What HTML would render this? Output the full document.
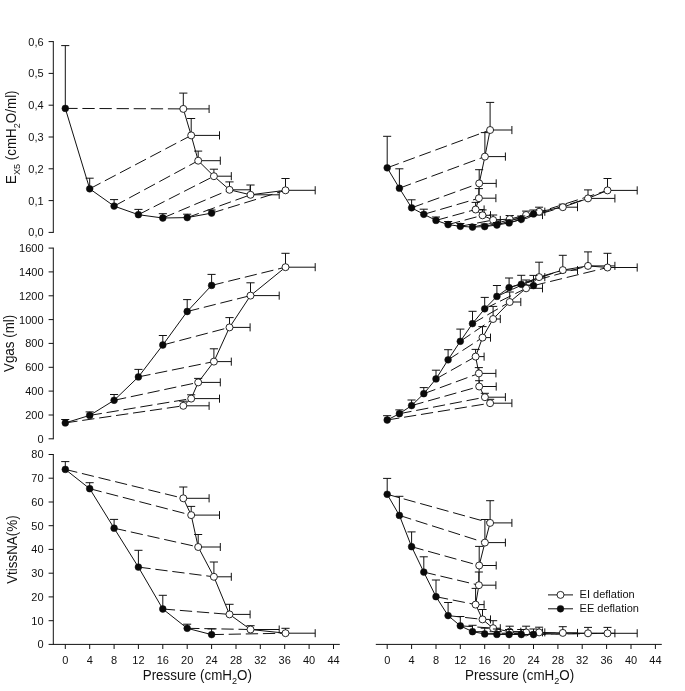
<!DOCTYPE html>
<html lang="en"><head><meta charset="utf-8"><title>Figure</title>
<style>html,body{margin:0;padding:0;background:#fff}svg{display:block}text{font-family:"Liberation Sans", Arial, sans-serif;fill:#111}.t{font-size:11px}.a{font-size:13.4px}.s{font-size:9.1px}.ln{stroke:#111;stroke-width:1;fill:none}.ax{stroke:#111;stroke-width:1;fill:none}.d{stroke:#111;stroke-width:1;fill:none;stroke-dasharray:12.3 4.8}.o{fill:#fff;stroke:#111;stroke-width:0.9}.f{fill:#0a0a0a;stroke:#111;stroke-width:0.5}</style></head><body>
<svg width="685" height="691" viewBox="0 0 685 691">
<rect width="685" height="691" fill="#fff"/>
<path class="d" d="M65.3 108.4L183.3 108.9M89.7 188.8L191.2 135.4M114.1 206.1L198.2 160.7M138.4 214.7L213.9 176.2M162.8 218.0L229.5 189.8M187.2 217.6L250.5 194.8M211.6 213.1L285.5 190.3"/>
<polyline class="ln" points="183.3,108.9 191.2,135.4 198.2,160.7 213.9,176.2 229.5,189.8 250.5,194.8 285.5,190.3"/>
<path class="ln" d="M183.3 108.9V93.1M179.2 93.1H187.4M183.3 108.9H209.1M209.1 104.9V113.0M191.2 135.4V118.5M187.1 118.5H195.2M191.2 135.4H219.5M219.5 131.3V139.5M198.2 160.7V151.1M194.1 151.1H202.2M198.2 160.7H220.3M220.3 156.6V164.8M213.9 176.2V169.2M209.8 169.2H218.0M213.9 176.2H231.3M231.3 172.1V180.2M229.5 189.8V181.9M225.4 181.9H233.6M229.5 189.8H250.1M250.1 185.8V193.9M250.5 194.8V185.0M246.4 185.0H254.6M250.5 194.8H279.2M279.2 190.8V198.9M285.5 190.3V178.5M281.4 178.5H289.6M285.5 190.3H315.2M315.2 186.2V194.4"/>
<circle class="o" cx="183.3" cy="108.9" r="3.5"/>
<circle class="o" cx="191.2" cy="135.4" r="3.5"/>
<circle class="o" cx="198.2" cy="160.7" r="3.5"/>
<circle class="o" cx="213.9" cy="176.2" r="3.5"/>
<circle class="o" cx="229.5" cy="189.8" r="3.5"/>
<circle class="o" cx="250.5" cy="194.8" r="3.5"/>
<circle class="o" cx="285.5" cy="190.3" r="3.5"/>
<polyline class="ln" points="65.3,108.4 89.7,188.8 114.1,206.1 138.4,214.7 162.8,218.0 187.2,217.6 211.6,213.1"/>
<path class="ln" d="M65.3 108.4V45.6M61.2 45.6H69.3M89.7 188.8V178.2M85.6 178.2H93.7M114.1 206.1V199.6M110.0 199.6H118.1M138.4 214.7V209.4M134.4 209.4H142.5M162.8 218.0V213.7M158.8 213.7H166.9M187.2 217.6V214.2M183.1 214.2H191.2M211.6 213.1V210.0M207.5 210.0H215.6"/>
<circle class="f" cx="65.3" cy="108.4" r="3.4"/>
<circle class="f" cx="89.7" cy="188.8" r="3.4"/>
<circle class="f" cx="114.1" cy="206.1" r="3.4"/>
<circle class="f" cx="138.4" cy="214.7" r="3.4"/>
<circle class="f" cx="162.8" cy="218.0" r="3.4"/>
<circle class="f" cx="187.2" cy="217.6" r="3.4"/>
<circle class="f" cx="211.6" cy="213.1" r="3.4"/>
<path class="d" d="M65.3 422.9L183.3 405.8M89.7 415.4L191.2 398.6M114.1 400.3L198.2 382.4M138.4 376.9L213.9 361.6M162.8 345.0L229.5 327.4M187.2 311.5L250.5 295.6M211.6 285.4L285.5 267.2"/>
<polyline class="ln" points="183.3,405.8 191.2,398.6 198.2,382.4 213.9,361.6 229.5,327.4 250.5,295.6 285.5,267.2"/>
<path class="ln" d="M183.3 405.8V401.2M179.2 401.2H187.4M183.3 405.8H209.1M209.1 401.8V409.9M191.2 398.6V394.8M187.1 394.8H195.2M191.2 398.6H219.5M219.5 394.6V402.7M198.2 382.4V378.4M194.1 378.4H202.2M198.2 382.4H220.3M220.3 378.3V386.4M213.9 361.6V348.8M209.8 348.8H218.0M213.9 361.6H231.3M231.3 357.6V365.7M229.5 327.4V317.6M225.4 317.6H233.6M229.5 327.4H250.1M250.1 323.3V331.4M250.5 295.6V282.8M246.4 282.8H254.6M250.5 295.6H279.2M279.2 291.6V299.7M285.5 267.2V253.3M281.4 253.3H289.6M285.5 267.2H315.2M315.2 263.1V271.2"/>
<circle class="o" cx="183.3" cy="405.8" r="3.5"/>
<circle class="o" cx="191.2" cy="398.6" r="3.5"/>
<circle class="o" cx="198.2" cy="382.4" r="3.5"/>
<circle class="o" cx="213.9" cy="361.6" r="3.5"/>
<circle class="o" cx="229.5" cy="327.4" r="3.5"/>
<circle class="o" cx="250.5" cy="295.6" r="3.5"/>
<circle class="o" cx="285.5" cy="267.2" r="3.5"/>
<polyline class="ln" points="65.3,422.9 89.7,415.4 114.1,400.3 138.4,376.9 162.8,345.0 187.2,311.5 211.6,285.4"/>
<path class="ln" d="M65.3 422.9V419.5M61.2 419.5H69.3M89.7 415.4V411.9M85.6 411.9H93.7M114.1 400.3V394.5M110.0 394.5H118.1M138.4 376.9V369.4M134.4 369.4H142.5M162.8 345.0V335.5M158.8 335.5H166.9M187.2 311.5V299.6M183.1 299.6H191.2M211.6 285.4V274.4M207.5 274.4H215.6"/>
<circle class="f" cx="65.3" cy="422.9" r="3.4"/>
<circle class="f" cx="89.7" cy="415.4" r="3.4"/>
<circle class="f" cx="114.1" cy="400.3" r="3.4"/>
<circle class="f" cx="138.4" cy="376.9" r="3.4"/>
<circle class="f" cx="162.8" cy="345.0" r="3.4"/>
<circle class="f" cx="187.2" cy="311.5" r="3.4"/>
<circle class="f" cx="211.6" cy="285.4" r="3.4"/>
<path class="d" d="M65.3 469.4L183.3 498.3M89.7 488.7L191.2 515.1M114.1 528.2L198.2 547.0M138.4 567.1L213.9 576.8M162.8 609.0L229.5 614.4M187.2 628.3L250.5 629.5M211.6 634.6L285.5 633.2"/>
<polyline class="ln" points="183.3,498.3 191.2,515.1 198.2,547.0 213.9,576.8 229.5,614.4 250.5,629.5 285.5,633.2"/>
<path class="ln" d="M183.3 498.3V487.0M179.2 487.0H187.4M183.3 498.3H209.1M209.1 494.2V502.4M191.2 515.1V506.4M187.1 506.4H195.2M191.2 515.1H219.5M219.5 511.1V519.1M198.2 547.0V534.5M194.1 534.5H202.2M198.2 547.0H220.3M220.3 543.0V551.0M213.9 576.8V562.0M209.8 562.0H218.0M213.9 576.8H231.3M231.3 572.8V580.8M229.5 614.4V604.3M225.4 604.3H233.6M229.5 614.4H250.1M250.1 610.4V618.4M250.5 629.5V625.7M246.4 625.7H254.6M250.5 629.5H279.2M279.2 625.5V633.5M285.5 633.2V628.3M281.4 628.3H289.6M285.5 633.2H315.2M315.2 629.2V637.2"/>
<circle class="o" cx="183.3" cy="498.3" r="3.5"/>
<circle class="o" cx="191.2" cy="515.1" r="3.5"/>
<circle class="o" cx="198.2" cy="547.0" r="3.5"/>
<circle class="o" cx="213.9" cy="576.8" r="3.5"/>
<circle class="o" cx="229.5" cy="614.4" r="3.5"/>
<circle class="o" cx="250.5" cy="629.5" r="3.5"/>
<circle class="o" cx="285.5" cy="633.2" r="3.5"/>
<polyline class="ln" points="65.3,469.4 89.7,488.7 114.1,528.2 138.4,567.1 162.8,609.0 187.2,628.3 211.6,634.6"/>
<path class="ln" d="M65.3 469.4V461.6M61.2 461.6H69.3M89.7 488.7V482.7M85.6 482.7H93.7M114.1 528.2V519.4M110.0 519.4H118.1M138.4 567.1V550.3M134.4 550.3H142.5M162.8 609.0V595.3M158.8 595.3H166.9M187.2 628.3V624.2M183.1 624.2H191.2M211.6 634.6V628.9M207.5 628.9H215.6"/>
<circle class="f" cx="65.3" cy="469.4" r="3.4"/>
<circle class="f" cx="89.7" cy="488.7" r="3.4"/>
<circle class="f" cx="114.1" cy="528.2" r="3.4"/>
<circle class="f" cx="138.4" cy="567.1" r="3.4"/>
<circle class="f" cx="162.8" cy="609.0" r="3.4"/>
<circle class="f" cx="187.2" cy="628.3" r="3.4"/>
<circle class="f" cx="211.6" cy="634.6" r="3.4"/>
<path class="d" d="M387.2 167.8L490.1 130.0M399.4 188.2L484.9 156.6M411.6 207.8L479.2 183.4M423.8 214.3L478.9 198.2M436.0 220.4L475.6 209.5M448.1 224.6L482.5 215.3M460.3 226.3L493.1 220.0M472.5 227.1L509.7 219.1M484.7 226.6L526.1 215.0M496.9 225.0L539.1 211.7M509.1 222.9L562.8 207.2M521.3 219.3L588.0 198.4M533.5 213.9L607.5 190.4"/>
<polyline class="ln" points="490.1,130.0 484.9,156.6 479.2,183.4 478.9,198.2 475.6,209.5 482.5,215.3 493.1,220.0 509.7,219.1 526.1,215.0 539.1,211.7 562.8,207.2 588.0,198.4 607.5,190.4"/>
<path class="ln" d="M490.1 130.0V102.4M486.1 102.4H494.2M490.1 130.0H511.9M511.9 126.0V134.1M484.9 156.6V132.6M480.8 132.6H488.9M484.9 156.6H505.4M505.4 152.5V160.7M479.2 183.4V169.7M475.1 169.7H483.2M479.2 183.4H496.2M496.2 179.3V187.5M478.9 198.2V188.6M474.8 188.6H482.9M478.9 198.2H495.9M495.9 194.1V202.2M475.6 209.5V202.4M471.6 202.4H479.7M475.6 209.5H484.1M484.1 205.4V213.6M482.5 215.3V209.9M478.4 209.9H486.6M482.5 215.3H490.5M490.5 211.2V219.4M493.1 220.0V215.0M489.1 215.0H497.2M493.1 220.0H500.3M500.3 215.9V224.1M509.7 219.1V215.5M505.6 215.5H513.8M509.7 219.1H520.8M520.8 215.0V223.2M526.1 215.0V211.1M522.1 211.1H530.1M526.1 215.0H542.5M542.5 210.9V219.1M539.1 211.7V207.2M535.1 207.2H543.1M539.1 211.7H544.8M544.8 207.6V215.8M562.8 207.2V204.2M558.8 204.2H566.8M562.8 207.2H577.5M577.5 203.1V211.2M588.0 198.4V189.9M584.0 189.9H592.0M588.0 198.4H614.9M614.9 194.3V202.5M607.5 190.4V178.5M603.5 178.5H611.5M607.5 190.4H637.2M637.2 186.3V194.5"/>
<circle class="o" cx="490.1" cy="130.0" r="3.5"/>
<circle class="o" cx="484.9" cy="156.6" r="3.5"/>
<circle class="o" cx="479.2" cy="183.4" r="3.5"/>
<circle class="o" cx="478.9" cy="198.2" r="3.5"/>
<circle class="o" cx="475.6" cy="209.5" r="3.5"/>
<circle class="o" cx="482.5" cy="215.3" r="3.5"/>
<circle class="o" cx="493.1" cy="220.0" r="3.5"/>
<circle class="o" cx="509.7" cy="219.1" r="3.5"/>
<circle class="o" cx="526.1" cy="215.0" r="3.5"/>
<circle class="o" cx="539.1" cy="211.7" r="3.5"/>
<circle class="o" cx="562.8" cy="207.2" r="3.5"/>
<circle class="o" cx="588.0" cy="198.4" r="3.5"/>
<circle class="o" cx="607.5" cy="190.4" r="3.5"/>
<polyline class="ln" points="387.2,167.8 399.4,188.2 411.6,207.8 423.8,214.3 436.0,220.4 448.1,224.6 460.3,226.3 472.5,227.1 484.7,226.6 496.9,225.0 509.1,222.9 521.3,219.3 533.5,213.9"/>
<path class="ln" d="M387.2 167.8V136.3M383.1 136.3H391.2M399.4 188.2V168.8M395.3 168.8H403.4M411.6 207.8V199.8M407.5 199.8H415.6M423.8 214.3V209.2M419.7 209.2H427.8M436.0 220.4V217.0M431.9 217.0H440.0M448.1 224.6V221.5M444.1 221.5H452.2M460.3 226.3V223.5M456.3 223.5H464.4M472.5 227.1V224.5M468.5 224.5H476.6M484.7 226.6V224.0M480.7 224.0H488.8M496.9 225.0V222.5M492.9 222.5H501.0M509.1 222.9V220.0M505.0 220.0H513.1M521.3 219.3V216.0M517.2 216.0H525.3M533.5 213.9V210.0M529.4 210.0H537.5"/>
<circle class="f" cx="387.2" cy="167.8" r="3.4"/>
<circle class="f" cx="399.4" cy="188.2" r="3.4"/>
<circle class="f" cx="411.6" cy="207.8" r="3.4"/>
<circle class="f" cx="423.8" cy="214.3" r="3.4"/>
<circle class="f" cx="436.0" cy="220.4" r="3.4"/>
<circle class="f" cx="448.1" cy="224.6" r="3.4"/>
<circle class="f" cx="460.3" cy="226.3" r="3.4"/>
<circle class="f" cx="472.5" cy="227.1" r="3.4"/>
<circle class="f" cx="484.7" cy="226.6" r="3.4"/>
<circle class="f" cx="496.9" cy="225.0" r="3.4"/>
<circle class="f" cx="509.1" cy="222.9" r="3.4"/>
<circle class="f" cx="521.3" cy="219.3" r="3.4"/>
<circle class="f" cx="533.5" cy="213.9" r="3.4"/>
<path class="d" d="M387.2 420.0L490.1 403.2M399.4 413.7L484.9 397.2M411.6 405.6L479.2 386.5M423.8 393.7L478.9 373.4M436.0 378.9L475.6 356.6M448.1 359.8L482.5 337.6M460.3 341.3L493.1 319.0M472.5 323.6L509.7 302.0M484.7 308.8L526.1 288.3M496.9 296.4L539.1 277.1M509.1 287.6L562.8 270.1M521.3 284.3L588.0 265.9M533.5 285.6L607.5 267.5"/>
<polyline class="ln" points="490.1,403.2 484.9,397.2 479.2,386.5 478.9,373.4 475.6,356.6 482.5,337.6 493.1,319.0 509.7,302.0 526.1,288.3 539.1,277.1 562.8,270.1 588.0,265.9 607.5,267.5"/>
<path class="ln" d="M490.1 403.2V399.3M486.1 399.3H494.2M490.1 403.2H511.9M511.9 399.1V407.2M484.9 397.2V393.3M480.8 393.3H488.9M484.9 397.2H505.4M505.4 393.1V401.2M479.2 386.5V380.7M475.1 380.7H483.2M479.2 386.5H496.2M496.2 382.4V390.6M478.9 373.4V367.6M474.8 367.6H482.9M478.9 373.4H495.9M495.9 369.3V377.4M475.6 356.6V349.4M471.6 349.4H479.7M475.6 356.6H484.1M484.1 352.6V360.7M482.5 337.6V326.6M478.4 326.6H486.6M482.5 337.6H490.5M490.5 333.6V341.7M493.1 319.0V306.4M489.1 306.4H497.2M493.1 319.0H500.3M500.3 314.9V323.1M509.7 302.0V292.0M505.6 292.0H513.8M509.7 302.0H520.8M520.8 297.9V306.1M526.1 288.3V280.0M522.1 280.0H530.1M526.1 288.3H542.5M542.5 284.2V292.4M539.1 277.1V262.2M535.1 262.2H543.1M539.1 277.1H544.8M544.8 273.1V281.2M562.8 270.1V255.3M558.8 255.3H566.8M562.8 270.1H577.5M577.5 266.1V274.2M588.0 265.9V251.9M584.0 251.9H592.0M588.0 265.9H614.9M614.9 261.8V269.9M607.5 267.5V253.3M603.5 253.3H611.5M607.5 267.5H637.2M637.2 263.4V271.6"/>
<circle class="o" cx="490.1" cy="403.2" r="3.5"/>
<circle class="o" cx="484.9" cy="397.2" r="3.5"/>
<circle class="o" cx="479.2" cy="386.5" r="3.5"/>
<circle class="o" cx="478.9" cy="373.4" r="3.5"/>
<circle class="o" cx="475.6" cy="356.6" r="3.5"/>
<circle class="o" cx="482.5" cy="337.6" r="3.5"/>
<circle class="o" cx="493.1" cy="319.0" r="3.5"/>
<circle class="o" cx="509.7" cy="302.0" r="3.5"/>
<circle class="o" cx="526.1" cy="288.3" r="3.5"/>
<circle class="o" cx="539.1" cy="277.1" r="3.5"/>
<circle class="o" cx="562.8" cy="270.1" r="3.5"/>
<circle class="o" cx="588.0" cy="265.9" r="3.5"/>
<circle class="o" cx="607.5" cy="267.5" r="3.5"/>
<polyline class="ln" points="387.2,420.0 399.4,413.7 411.6,405.6 423.8,393.7 436.0,378.9 448.1,359.8 460.3,341.3 472.5,323.6 484.7,308.8 496.9,296.4 509.1,287.6 521.3,284.3 533.5,285.6"/>
<path class="ln" d="M387.2 420.0V415.7M383.1 415.7H391.2M399.4 413.7V409.9M395.3 409.9H403.4M411.6 405.6V400.0M407.5 400.0H415.6M423.8 393.7V387.6M419.7 387.6H427.8M436.0 378.9V370.2M431.9 370.2H440.0M448.1 359.8V349.7M444.1 349.7H452.2M460.3 341.3V329.1M456.3 329.1H464.4M472.5 323.6V311.3M468.5 311.3H476.6M484.7 308.8V297.4M480.7 297.4H488.8M496.9 296.4V285.5M492.9 285.5H501.0M509.1 287.6V278.0M505.0 278.0H513.1M521.3 284.3V275.3M517.2 275.3H525.3M533.5 285.6V275.4M529.4 275.4H537.5"/>
<circle class="f" cx="387.2" cy="420.0" r="3.4"/>
<circle class="f" cx="399.4" cy="413.7" r="3.4"/>
<circle class="f" cx="411.6" cy="405.6" r="3.4"/>
<circle class="f" cx="423.8" cy="393.7" r="3.4"/>
<circle class="f" cx="436.0" cy="378.9" r="3.4"/>
<circle class="f" cx="448.1" cy="359.8" r="3.4"/>
<circle class="f" cx="460.3" cy="341.3" r="3.4"/>
<circle class="f" cx="472.5" cy="323.6" r="3.4"/>
<circle class="f" cx="484.7" cy="308.8" r="3.4"/>
<circle class="f" cx="496.9" cy="296.4" r="3.4"/>
<circle class="f" cx="509.1" cy="287.6" r="3.4"/>
<circle class="f" cx="521.3" cy="284.3" r="3.4"/>
<circle class="f" cx="533.5" cy="285.6" r="3.4"/>
<path class="d" d="M387.2 494.3L490.1 522.9M399.4 515.4L484.9 542.6M411.6 546.7L479.2 565.5M423.8 572.1L478.9 585.2M436.0 596.7L475.6 604.6M448.1 615.6L482.5 619.4M460.3 625.8L493.1 628.2M472.5 631.7L509.7 631.7M484.7 633.9L526.1 632.4M496.9 634.4L539.1 632.4M509.1 634.5L562.8 632.9M521.3 634.5L588.0 633.3M533.5 634.5L607.5 633.3"/>
<polyline class="ln" points="490.1,522.9 484.9,542.6 479.2,565.5 478.9,585.2 475.6,604.6 482.5,619.4 493.1,628.2 509.7,631.7 526.1,632.4 539.1,632.4 562.8,632.9 588.0,633.3 607.5,633.3"/>
<path class="ln" d="M490.1 522.9V500.7M486.1 500.7H494.2M490.1 522.9H511.9M511.9 518.9V526.9M484.9 542.6V519.5M480.8 519.5H488.9M484.9 542.6H505.4M505.4 538.6V546.6M479.2 565.5V546.4M475.1 546.4H483.2M479.2 565.5H496.2M496.2 561.5V569.5M478.9 585.2V572.0M474.8 572.0H482.9M478.9 585.2H495.9M495.9 581.2V589.2M475.6 604.6V588.4M471.6 588.4H479.7M475.6 604.6H484.1M484.1 600.6V608.6M482.5 619.4V609.5M478.4 609.5H486.6M482.5 619.4H490.5M490.5 615.4V623.4M493.1 628.2V620.7M489.1 620.7H497.2M493.1 628.2H500.3M500.3 624.2V632.2M509.7 631.7V626.2M505.6 626.2H513.8M509.7 631.7H520.8M520.8 627.7V635.8M526.1 632.4V626.2M522.1 626.2H530.1M526.1 632.4H542.5M542.5 628.4V636.4M539.1 632.4V627.2M535.1 627.2H543.1M539.1 632.4H544.8M544.8 628.4V636.4M562.8 632.9V626.7M558.8 626.7H566.8M562.8 632.9H577.5M577.5 628.9V636.9M588.0 633.3V627.4M584.0 627.4H592.0M588.0 633.3H614.9M614.9 629.2V637.3M607.5 633.3V627.4M603.5 627.4H611.5M607.5 633.3H637.2M637.2 629.2V637.3"/>
<circle class="o" cx="490.1" cy="522.9" r="3.5"/>
<circle class="o" cx="484.9" cy="542.6" r="3.5"/>
<circle class="o" cx="479.2" cy="565.5" r="3.5"/>
<circle class="o" cx="478.9" cy="585.2" r="3.5"/>
<circle class="o" cx="475.6" cy="604.6" r="3.5"/>
<circle class="o" cx="482.5" cy="619.4" r="3.5"/>
<circle class="o" cx="493.1" cy="628.2" r="3.5"/>
<circle class="o" cx="509.7" cy="631.7" r="3.5"/>
<circle class="o" cx="526.1" cy="632.4" r="3.5"/>
<circle class="o" cx="539.1" cy="632.4" r="3.5"/>
<circle class="o" cx="562.8" cy="632.9" r="3.5"/>
<circle class="o" cx="588.0" cy="633.3" r="3.5"/>
<circle class="o" cx="607.5" cy="633.3" r="3.5"/>
<polyline class="ln" points="387.2,494.3 399.4,515.4 411.6,546.7 423.8,572.1 436.0,596.7 448.1,615.6 460.3,625.8 472.5,631.7 484.7,633.9 496.9,634.4 509.1,634.5 521.3,634.5 533.5,634.5"/>
<path class="ln" d="M387.2 494.3V478.4M383.1 478.4H391.2M399.4 515.4V496.3M395.3 496.3H403.4M411.6 546.7V531.9M407.5 531.9H415.6M423.8 572.1V556.8M419.7 556.8H427.8M436.0 596.7V580.0M431.9 580.0H440.0M448.1 615.6V602.5M444.1 602.5H452.2M460.3 625.8V616.5M456.3 616.5H464.4M472.5 631.7V625.3M468.5 625.3H476.6M484.7 633.9V628.2M480.7 628.2H488.8M496.9 634.4V629.0M492.9 629.0H501.0M509.1 634.5V629.5M505.0 629.5H513.1M521.3 634.5V629.5M517.2 629.5H525.3M533.5 634.5V629.0M529.4 629.0H537.5"/>
<circle class="f" cx="387.2" cy="494.3" r="3.4"/>
<circle class="f" cx="399.4" cy="515.4" r="3.4"/>
<circle class="f" cx="411.6" cy="546.7" r="3.4"/>
<circle class="f" cx="423.8" cy="572.1" r="3.4"/>
<circle class="f" cx="436.0" cy="596.7" r="3.4"/>
<circle class="f" cx="448.1" cy="615.6" r="3.4"/>
<circle class="f" cx="460.3" cy="625.8" r="3.4"/>
<circle class="f" cx="472.5" cy="631.7" r="3.4"/>
<circle class="f" cx="484.7" cy="633.9" r="3.4"/>
<circle class="f" cx="496.9" cy="634.4" r="3.4"/>
<circle class="f" cx="509.1" cy="634.5" r="3.4"/>
<circle class="f" cx="521.3" cy="634.5" r="3.4"/>
<circle class="f" cx="533.5" cy="634.5" r="3.4"/>
<path class="ax" d="M53.3 41.1V232.9M53.3 232.4h-4.7M53.3 200.6h-4.7M53.3 168.8h-4.7M53.3 137.0h-4.7M53.3 105.2h-4.7M53.3 73.4h-4.7M53.3 41.6h-4.7"/>
<text class="t" x="43.6" y="236.3" text-anchor="end">0,0</text>
<text class="t" x="43.6" y="204.5" text-anchor="end">0,1</text>
<text class="t" x="43.6" y="172.7" text-anchor="end">0,2</text>
<text class="t" x="43.6" y="140.9" text-anchor="end">0,3</text>
<text class="t" x="43.6" y="109.1" text-anchor="end">0,4</text>
<text class="t" x="43.6" y="77.3" text-anchor="end">0,5</text>
<text class="t" x="43.6" y="45.5" text-anchor="end">0,6</text>
<path class="ax" d="M53.3 247.6V439.3M53.3 438.8h-4.7M53.3 415.0h-4.7M53.3 391.1h-4.7M53.3 367.3h-4.7M53.3 343.4h-4.7M53.3 319.6h-4.7M53.3 295.8h-4.7M53.3 271.9h-4.7M53.3 248.1h-4.7"/>
<text class="t" x="43.6" y="442.7" text-anchor="end">0</text>
<text class="t" x="43.6" y="418.9" text-anchor="end">200</text>
<text class="t" x="43.6" y="395.0" text-anchor="end">400</text>
<text class="t" x="43.6" y="371.2" text-anchor="end">600</text>
<text class="t" x="43.6" y="347.3" text-anchor="end">800</text>
<text class="t" x="43.6" y="323.5" text-anchor="end">1000</text>
<text class="t" x="43.6" y="299.7" text-anchor="end">1200</text>
<text class="t" x="43.6" y="275.8" text-anchor="end">1400</text>
<text class="t" x="43.6" y="252.0" text-anchor="end">1600</text>
<path class="ax" d="M53.3 454.0V644.4M53.3 644.4h-4.7M53.3 620.7h-4.7M53.3 596.9h-4.7M53.3 573.2h-4.7M53.3 549.4h-4.7M53.3 525.7h-4.7M53.3 502.0h-4.7M53.3 478.2h-4.7M53.3 454.5h-4.7"/>
<text class="t" x="43.6" y="648.3" text-anchor="end">0</text>
<text class="t" x="43.6" y="624.6" text-anchor="end">10</text>
<text class="t" x="43.6" y="600.8" text-anchor="end">20</text>
<text class="t" x="43.6" y="577.1" text-anchor="end">30</text>
<text class="t" x="43.6" y="553.3" text-anchor="end">40</text>
<text class="t" x="43.6" y="529.6" text-anchor="end">50</text>
<text class="t" x="43.6" y="505.9" text-anchor="end">60</text>
<text class="t" x="43.6" y="482.1" text-anchor="end">70</text>
<text class="t" x="43.6" y="458.4" text-anchor="end">80</text>
<path class="ax" d="M53.0 644.4H339.8M65.3 644.4v4.6M89.7 644.4v4.6M114.1 644.4v4.6M138.4 644.4v4.6M162.8 644.4v4.6M187.2 644.4v4.6M211.6 644.4v4.6M236.0 644.4v4.6M260.3 644.4v4.6M284.7 644.4v4.6M309.1 644.4v4.6M333.5 644.4v4.6"/>
<text class="t" x="65.3" y="663.9" text-anchor="middle">0</text>
<text class="t" x="89.7" y="663.9" text-anchor="middle">4</text>
<text class="t" x="114.1" y="663.9" text-anchor="middle">8</text>
<text class="t" x="138.4" y="663.9" text-anchor="middle">12</text>
<text class="t" x="162.8" y="663.9" text-anchor="middle">16</text>
<text class="t" x="187.2" y="663.9" text-anchor="middle">20</text>
<text class="t" x="211.6" y="663.9" text-anchor="middle">24</text>
<text class="t" x="236.0" y="663.9" text-anchor="middle">28</text>
<text class="t" x="260.3" y="663.9" text-anchor="middle">32</text>
<text class="t" x="284.7" y="663.9" text-anchor="middle">36</text>
<text class="t" x="309.1" y="663.9" text-anchor="middle">40</text>
<text class="t" x="333.5" y="663.9" text-anchor="middle">44</text>
<path class="ax" d="M375.8 644.4H661.8M387.2 644.4v4.6M411.6 644.4v4.6M436.0 644.4v4.6M460.3 644.4v4.6M484.7 644.4v4.6M509.1 644.4v4.6M533.5 644.4v4.6M557.9 644.4v4.6M582.2 644.4v4.6M606.6 644.4v4.6M631.0 644.4v4.6M655.4 644.4v4.6"/>
<text class="t" x="387.2" y="663.9" text-anchor="middle">0</text>
<text class="t" x="411.6" y="663.9" text-anchor="middle">4</text>
<text class="t" x="436.0" y="663.9" text-anchor="middle">8</text>
<text class="t" x="460.3" y="663.9" text-anchor="middle">12</text>
<text class="t" x="484.7" y="663.9" text-anchor="middle">16</text>
<text class="t" x="509.1" y="663.9" text-anchor="middle">20</text>
<text class="t" x="533.5" y="663.9" text-anchor="middle">24</text>
<text class="t" x="557.9" y="663.9" text-anchor="middle">28</text>
<text class="t" x="582.2" y="663.9" text-anchor="middle">32</text>
<text class="t" x="606.6" y="663.9" text-anchor="middle">36</text>
<text class="t" x="631.0" y="663.9" text-anchor="middle">40</text>
<text class="t" x="655.4" y="663.9" text-anchor="middle">44</text>
<text class="a" transform="translate(197.3 680.3) scale(1 1.04)" text-anchor="middle">Pressure (cmH<tspan class="s" dy="3.8">2</tspan><tspan dy="-3.8">O)</tspan></text>
<text class="a" transform="translate(519.6 680.3) scale(1 1.04)" text-anchor="middle">Pressure (cmH<tspan class="s" dy="3.8">2</tspan><tspan dy="-3.8">O)</tspan></text>
<text class="a" transform="translate(16.2 137.2) rotate(-90) scale(1 1.04)" text-anchor="middle">E<tspan class="s" dy="3.8">X5</tspan><tspan dy="-3.8"> (cmH</tspan><tspan class="s" dy="3.8">2</tspan><tspan dy="-3.8">O/ml)</tspan></text>
<text class="a" transform="translate(14.4 343.4) rotate(-90) scale(1 1.04)" text-anchor="middle">Vgas (ml)</text>
<text class="a" transform="translate(16.6 549.6) rotate(-90) scale(1 1.04)" text-anchor="middle">VtissNA(%)</text>
<path class="ln" d="M548 594.9H573M548 608.8H573"/>
<circle class="o" cx="560.5" cy="594.9" r="3.5"/><circle class="f" cx="560.5" cy="608.8" r="3.4"/>
<text class="t" x="579.6" y="598.3">EI deflation</text>
<text class="t" x="579.6" y="612.2">EE deflation</text>
</svg></body></html>
